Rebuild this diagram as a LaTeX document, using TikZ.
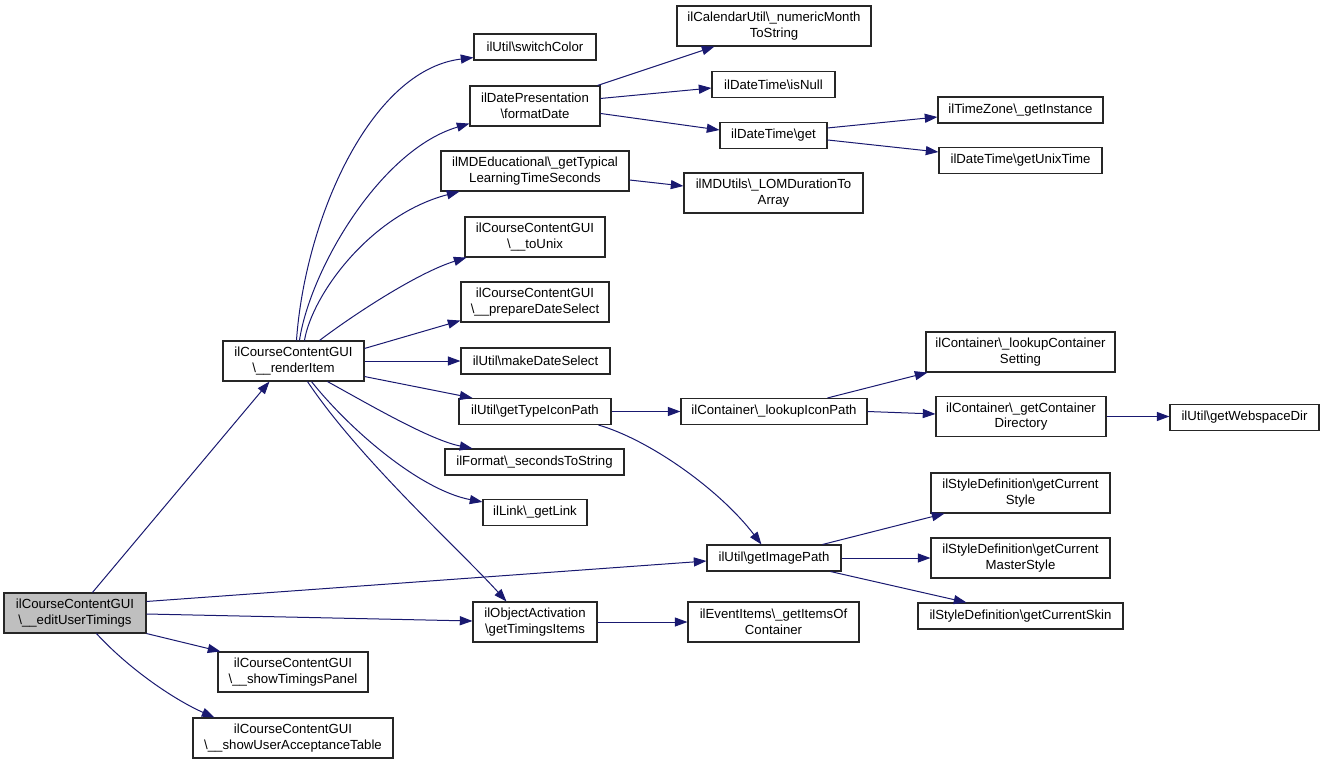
\documentclass[tikz,border=0pt]{standalone}
\usepackage{fontspec}
\setmainfont{Liberation Sans}
\usetikzlibrary{arrows.meta,calc}
\definecolor{edgeblue}{HTML}{191970}
\definecolor{boxgray}{HTML}{BFBFBF}
\newcommand\myBS{\textbackslash}
\newcommand\myUS{\_}
\begin{document}
\begin{tikzpicture}[x=0.75pt,y=-0.75pt,
  fn/.style={draw=black!85,line width=0.8pt,fill=white,inner sep=0pt,align=center,
    font=\fontsize{9.9}{11.7}\selectfont},
  bw/.style={minimum width=#1*0.75pt},
  one/.style={minimum height=19.5pt},
  two/.style={minimum height=30pt},
  edge/.style={draw=edgeblue,line width=0.75pt,-{Triangle[length=9.5pt,width=6.8pt]}}]
\useasboundingbox (0,0) rectangle (1325,764);
% nodes
\node[fn,two,bw=142,fill=boxgray] (eut) at (75,613) {ilCourseContentGUI\\\myBS\myUS\myUS editUserTimings};
\node[fn,two,bw=141] (ren) at (293.5,361) {ilCourseContentGUI\\\myBS\myUS\myUS renderItem};
\node[fn,one,bw=122] (sw) at (535,47) {ilUtil\myBS switchColor};
\node[fn,two,bw=130] (fd) at (535,106) {ilDatePresentation\\\myBS formatDate};
\node[fn,two,bw=188] (gt) at (535,171) {ilMDEducational\myBS\myUS getTypical\\LearningTimeSeconds};
\node[fn,two,bw=140] (tu) at (535,237) {ilCourseContentGUI\\\myBS\myUS\myUS toUnix};
\node[fn,two,bw=148] (pd) at (535,302) {ilCourseContentGUI\\\myBS\myUS\myUS prepareDateSelect};
\node[fn,one,bw=149] (md) at (535.5,361) {ilUtil\myBS makeDateSelect};
\node[fn,one,bw=152] (tip) at (535,411.5) {ilUtil\myBS getTypeIconPath};
\node[fn,one,bw=179] (sts) at (534.5,462) {ilFormat\myBS\myUS secondsToString};
\node[fn,one,bw=104] (gl) at (535,512.5) {ilLink\myBS\myUS getLink};
\node[fn,two,bw=124] (oa) at (535,622) {ilObjectActivation\\\myBS getTimingsItems};
\node[fn,two,bw=194] (nm) at (774,26) {ilCalendarUtil\myBS\myUS numericMonth\\ToString};
\node[fn,one,bw=123] (isn) at (773.5,84.5) {ilDateTime\myBS isNull};
\node[fn,one,bw=107] (dtg) at (773.5,135.5) {ilDateTime\myBS get};
\node[fn,two,bw=179] (lom) at (773.5,193) {ilMDUtils\myBS\myUS LOMDurationTo\\Array};
\node[fn,one,bw=165] (gi) at (1020.5,110) {ilTimeZone\myBS\myUS getInstance};
\node[fn,one,bw=163] (gut) at (1020.5,160.5) {ilDateTime\myBS getUnixTime};
\node[fn,one,bw=186] (lip) at (774,411.5) {ilContainer\myBS\myUS lookupIconPath};
\node[fn,two,bw=189] (lcs) at (1020.5,352) {ilContainer\myBS\myUS lookupContainer\\Setting};
\node[fn,two,bw=170] (gcd) at (1021,416.5) {ilContainer\myBS\myUS getContainer\\Directory};
\node[fn,one,bw=149] (wsd) at (1244.5,417.5) {ilUtil\myBS getWebspaceDir};
\node[fn,one,bw=134] (gip) at (774,558) {ilUtil\myBS getImagePath};
\node[fn,two,bw=179] (gcs) at (1020.5,493) {ilStyleDefinition\myBS getCurrent\\Style};
\node[fn,two,bw=179] (gcms) at (1020.5,558) {ilStyleDefinition\myBS getCurrent\\MasterStyle};
\node[fn,one,bw=205] (gsk) at (1020.5,616) {ilStyleDefinition\myBS getCurrentSkin};
\node[fn,two,bw=171] (gic) at (773.5,622) {ilEventItems\myBS\myUS getItemsOf\\Container};
\node[fn,two,bw=150] (stp) at (293,672) {ilCourseContentGUI\\\myBS\myUS\myUS showTimingsPanel};
\node[fn,two,bw=200] (suat) at (293,738) {ilCourseContentGUI\\\myBS\myUS\myUS showUserAcceptanceTable};
% edges from editUserTimings
\draw[edge] ($(eut.north west)+(89,0)$) -- ($(ren.south west)+(47,0)$);
\draw[edge] ($(eut.north east)+(0,9)$) -- ($(gip.west)+(0,3)$);
\draw[edge] ($(eut.east)+(0,1)$) -- ($(oa.west)+(0,-1)$);
\draw[edge] (eut.south east) -- ($(stp.north west)+(3,0)$);
\draw[edge] ($(eut.south west)+(93,0)$) .. controls (130,670) and (175,700) .. ($(suat.north west)+(22,0)$);
% edges from renderItem
\draw[edge] ($(ren.north west)+(74,0)$) .. controls (305,220) and (370,70) .. ($(sw.south west)+(0,-3)$);
\draw[edge] ($(ren.north west)+(77,0)$) .. controls (310,270) and (380,150) .. ($(fd.south west)+(0,-3)$);
\draw[edge] ($(ren.north west)+(82,0)$) .. controls (312,295) and (370,215) .. ($(gt.south west)+(19,0)$);
\draw[edge] ($(ren.north west)+(97,0)$) .. controls (360,310) and (420,272) .. ($(tu.south west)+(2,0)$);
\draw[edge] ($(ren.north east)+(0,8)$) -- ($(pd.south west)+(0,-2)$);
\draw[edge] (ren.east) -- (ren.east -| md.west);
\draw[edge] ($(ren.south east)+(0,-5)$) -- ($(tip.north west)+(14,0)$);
\draw[edge] ($(ren.south west)+(105,0)$) .. controls (370,405) and (430,440) .. ($(sts.north west)+(28,0)$);
\draw[edge] ($(ren.south west)+(89,0)$) .. controls (350,430) and (420,490) .. ($(gl.north west)+(0,3)$);
\draw[edge] ($(ren.south west)+(85,0)$) .. controls (360,460) and (460,550) .. ($(oa.north west)+(34,0)$);
% formatDate
\draw[edge] ($(fd.north east)+(-3,0)$) -- ($(nm.south west)+(38,0)$);
\draw[edge] ($(fd.north east)+(0,13)$) -- ($(isn.west)+(0,3.5)$);
\draw[edge] ($(fd.north east)+(0,28)$) -- ($(dtg.west)+(0,-5.5)$);
% DateTime get
\draw[edge] ($(dtg.north east)+(0,6)$) -- ($(gi.west)+(0,7)$);
\draw[edge] ($(dtg.north east)+(0,18)$) -- ($(gut.west)+(0,-8.5)$);
% getTypical
\draw[edge] ($(gt.east)+(0,9)$) -- ($(lom.west)+(0,-7)$);
% getTypeIconPath
\draw[edge] (tip.east) -- (lip.west);
\draw[edge] ($(tip.south east)+(-13,0)$) .. controls (650,440) and (720,490) .. ($(gip.north west)+(55,0)$);
% lookupIconPath
\draw[edge] ($(lip.north west)+(147,0)$) -- ($(lcs.south west)+(2,0)$);
\draw[edge] (lip.east) -- ($(gcd.west)+(0,-2.5)$);
\draw[edge] (gcd.east) -- (gcd.east -| wsd.west);
% getImagePath
\draw[edge] ($(gip.north east)+(-19,0)$) -- ($(gcs.south west)+(14,0)$);
\draw[edge] (gip.east) -- (gcms.west);
\draw[edge] ($(gip.south east)+(-11,0)$) -- ($(gsk.north west)+(49,0)$);
% getTimingsItems
\draw[edge] (oa.east) -- (gic.west);
\end{tikzpicture}
\end{document}
